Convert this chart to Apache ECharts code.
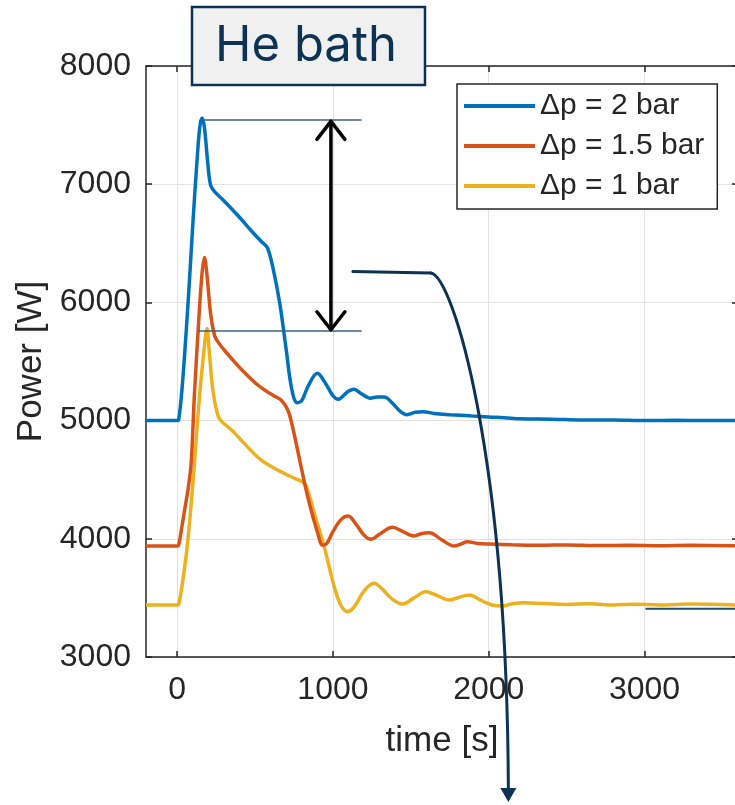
<!DOCTYPE html>
<html>
<head>
<meta charset="utf-8">
<script src="https://cdn.jsdelivr.net/npm/echarts@6/dist/echarts.min.js"></script>
<style>html,body{margin:0;padding:0;background:#fff}#c{width:735px;height:805px}</style>
</head>
<body>
<div id="c"></div>
<script>
// ---- data ----
const seriesNames = ['\u0394p = 2 bar', '\u0394p = 1.5 bar', '\u0394p = 1 bar'];
const xTicks = [0, 1000, 2000, 3000];
const yTicks = [3000, 4000, 5000, 6000, 7000, 8000];

const tBlue = [-200,0,10,30,50,75,100,125,145,160,175,195,215,245,300,400,480,540,580,620,660,700,735,770,800,840,900,950,1000,1035,1090,1135,1180,1240,1285,1330,1380,1430,1475,1530,1580,1650,1750,1880,2000,2100,2200,2400,2600,2800,3000,3200,3400,3600];
const vBlue = [5000,5000,5010,5250,5600,6100,6650,7150,7480,7560,7480,7200,6990,6930,6860,6720,6600,6515,6460,6260,5980,5600,5270,5150,5170,5290,5400,5320,5210,5180,5240,5265,5230,5190,5200,5200,5150,5080,5050,5070,5075,5060,5050,5040,5030,5025,5015,5012,5005,5005,5000,5002,5000,5000];

const tOrange = [-200,0,10,30,50,70,90,110,140,160,175,190,215,240,261,300,400,500,560,620,667,710,740,773,838,902,934,960,1000,1050,1098,1150,1200,1244,1300,1382,1450,1521,1570,1618,1700,1778,1820,1863,1930,2013,2150,2333,2500,2700,2900,3100,3300,3600];
const vOrange = [3940,3940,3950,4100,4260,4420,4640,5200,5880,6250,6380,6250,5900,5720,5668,5600,5450,5320,5260,5210,5174,5090,4950,4751,4356,4049,3947,3960,4060,4160,4193,4120,4030,3996,4040,4097,4060,4024,4045,4052,3990,3939,3955,3975,3960,3956,3950,3945,3948,3943,3945,3942,3945,3942];

const tYellow = [-200,0,10,37,69,101,120,140,165,192,205,230,260,282,350,410,538,645,752,816,850,880,944,1008,1050,1094,1140,1200,1265,1320,1380,1447,1520,1596,1670,1746,1810,1874,1950,2020,2088,2150,2228,2350,2500,2650,2800,2950,3100,3300,3600];
const vYellow = [3440,3440,3445,3651,3990,4472,4800,5150,5500,5780,5600,5250,5050,4998,4920,4836,4667,4582,4512,4470,4360,4216,3933,3595,3440,3383,3430,3560,3623,3570,3490,3448,3500,3552,3520,3482,3505,3525,3480,3440,3431,3450,3460,3452,3445,3450,3440,3447,3440,3448,3440];

// annotation anchors (data units: time, power)
const peakLine = [[154, 7543], [1184, 7543]];
const lowLine = [[137, 5758], [1184, 5758]];
const dArrow = [[987, 7540], [987, 5760]];
const curveStart = [1128, 6261], curveKnee = [1628, 6249], curveCp1 = [1769, 6223], curveCp2 = [2115, 4751], curveEnd = [2126, 1892], curveTip = [2126, 1773];
const brLine = [[3006, 3409], [3600, 3409]];

const colors = ['#0072BD', '#D95319', '#EDB120'];
const zip = (t, v) => t.map((x, i) => [x, v[i]]);
const dataSets = [zip(tBlue, vBlue), zip(tOrange, vOrange), zip(tYellow, vYellow)];

const FONT = 'Liberation Sans, Arial, sans-serif';
const chart = echarts.init(document.getElementById('c'), null, {renderer: 'canvas'});

const plain = (v) => String(v);
const axisLineStyle = {color: '#262626', width: 1.5};
chart.setOption({
  animation: false,
  backgroundColor: '#fff',
  grid: {left: 146, top: 66, width: 592, height: 591, containLabel: false, outerBoundsMode: 'none'},
  legend: {
    data: seriesNames,
    orient: 'vertical',
    left: 457, top: 84,
    itemWidth: 71, itemHeight: 4, itemGap: 10,
    icon: 'rect',
    padding: [7, 13, 8, 7],
    backgroundColor: '#fff',
    borderColor: '#262626', borderWidth: 1.5, borderRadius: 0,
    textStyle: {fontFamily: FONT, fontSize: 30, color: '#262626'}
  },
  xAxis: [{
    type: 'value', min: -200, max: 3600, position: 'bottom',
    name: 'time [s]', nameLocation: 'middle', nameGap: 67,
    nameTextStyle: {fontFamily: FONT, fontSize: 35, color: '#262626'},
    axisLine: {show: true, onZero: false, lineStyle: axisLineStyle},
    axisTick: {show: true, inside: true, length: 6, customValues: xTicks, lineStyle: {color: '#262626', width: 1.5}},
    axisLabel: {customValues: xTicks, formatter: plain, fontFamily: FONT, fontSize: 32, color: '#262626', margin: 17},
    splitLine: {show: true, lineStyle: {color: '#e2e2e2', width: 1}}
  }, {
    type: 'value', min: -200, max: 3600, position: 'top',
    axisLine: {show: true, onZero: false, lineStyle: axisLineStyle},
    axisTick: {show: true, inside: true, length: 6, customValues: xTicks, lineStyle: {color: '#262626', width: 1.5}},
    axisLabel: {show: false, customValues: xTicks},
    splitLine: {show: false}
  }],
  yAxis: [{
    type: 'value', min: 3000, max: 8000, interval: 1000, position: 'left',
    name: 'Power [W]', nameLocation: 'middle', nameGap: 83, nameRotate: 90,
    nameTextStyle: {fontFamily: FONT, fontSize: 35, color: '#262626'},
    axisLine: {show: true, onZero: false, lineStyle: axisLineStyle},
    axisTick: {show: true, inside: true, length: 6, lineStyle: {color: '#262626', width: 1.5}},
    axisLabel: {formatter: plain, fontFamily: FONT, fontSize: 32, color: '#262626', margin: 15},
    splitLine: {show: true, lineStyle: {color: '#e2e2e2', width: 1}}
  }, {
    type: 'value', min: 3000, max: 8000, interval: 1000, position: 'right',
    axisLine: {show: true, onZero: false, lineStyle: axisLineStyle},
    axisTick: {show: true, inside: true, length: 6, lineStyle: {color: '#262626', width: 1.5}},
    axisLabel: {show: false},
    splitLine: {show: false}
  }],
  series: seriesNames.map((n, i) => ({
    name: n, type: 'line', data: dataSets[i],
    showSymbol: false, symbol: 'none',
    smooth: 0.35,
    lineStyle: {color: colors[i], width: 3.5},
    itemStyle: {color: colors[i]},
    z: 3 - i
  }))
});

// annotations placed through the chart's own coordinate conversion
const P = (d) => chart.convertToPixel({gridIndex: 0}, d);
const g = [];
const thin = {stroke: '#3d5f7f', lineWidth: 1.6};
[peakLine, lowLine].forEach(l => {
  const a = P(l[0]), b = P(l[1]);
  g.push({type: 'line', z: 100, shape: {x1: a[0], y1: a[1], x2: b[0], y2: b[1]}, style: thin});
});
{
  const a = P(dArrow[0]), b = P(dArrow[1]);
  const st = {stroke: '#000', lineWidth: 3.5, lineCap: 'round', lineJoin: 'round', fill: null};
  g.push({type: 'line', z: 101, shape: {x1: a[0], y1: a[1] + 1, x2: b[0], y2: b[1] - 1}, style: st});
  g.push({type: 'polyline', z: 101, shape: {points: [[a[0] - 14, a[1] + 19], [a[0], a[1] + 1], [a[0] + 14, a[1] + 19]]}, style: st});
  g.push({type: 'polyline', z: 101, shape: {points: [[b[0] - 14, b[1] - 19], [b[0], b[1] - 1], [b[0] + 14, b[1] - 19]]}, style: st});
}
{
  const s = P(curveStart), k = P(curveKnee), c1 = P(curveCp1), c2 = P(curveCp2), e = P(curveEnd), t = P(curveTip);
  const st = {stroke: '#0d3354', lineWidth: 3, fill: null, lineCap: 'round'};
  g.push({type: 'line', z: 102, shape: {x1: s[0], y1: s[1], x2: k[0], y2: k[1]}, style: st});
  g.push({type: 'bezierCurve', z: 102, shape: {x1: k[0], y1: k[1], cpx1: c1[0], cpy1: c1[1], cpx2: c2[0], cpy2: c2[1], x2: e[0], y2: e[1]}, style: st});
  g.push({type: 'polygon', z: 102, shape: {points: [[t[0] - 8, e[1]], [t[0] + 8, e[1]], [t[0], t[1]]]}, style: {fill: '#0d3354'}});
}
{
  const a = P(brLine[0]), b = P(brLine[1]);
  g.push({type: 'line', z: 100, shape: {x1: a[0], y1: a[1], x2: b[0], y2: b[1]}, style: {stroke: '#1f4e79', lineWidth: 2}});
}
// title box
g.push({type: 'rect', z: 110, shape: {x: 192, y: 7, width: 233, height: 78}, style: {fill: '#f0f0f0', stroke: '#0d3354', lineWidth: 2.5}});
g.push({type: 'text', z: 111, x: 306, y: 46, style: {text: 'He bath', fontFamily: 'Inter, Lato, sans-serif', fontSize: 49, fill: '#0d3354', align: 'center', verticalAlign: 'middle'}});
chart.setOption({graphic: g});
</script>
</body>
</html>
